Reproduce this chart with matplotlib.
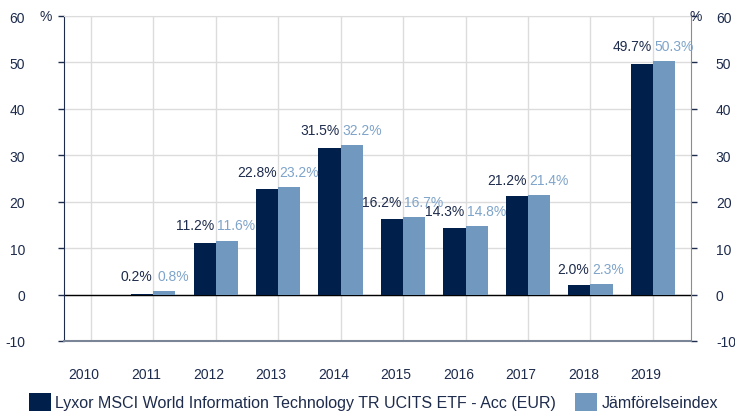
import numpy as np
import matplotlib.pyplot as plt
import matplotlib.transforms as mtransforms

plt.rcParams['font.family'] = ['Liberation Sans', 'DejaVu Sans']
plt.rcParams['axes.unicode_minus'] = False

# data
years = ["2010", "2011", "2012", "2013", "2014", "2015", "2016", "2017", "2018", "2019"]
fund = [np.nan, 0.2, 11.2, 22.8, 31.5, 16.2, 14.3, 21.2, 2.0, 49.7]
index = [np.nan, 0.8, 11.6, 23.2, 32.2, 16.7, 14.8, 21.4, 2.3, 50.3]
fund_name = "Lyxor MSCI World Information Technology TR UCITS ETF - Acc (EUR)"
index_name = "Jämförelseindex"

dark = "#001f4b"
light = "#7199c0"
dark_txt = "#1d2b4c"
light_txt = "#7fa4ca"
grid_col = "#dcdcdc"
fs = 10

fig = plt.figure(figsize=(7.35, 4.14), dpi=100)
ax = fig.add_axes([64 / 735, 1 - 342 / 414, (691 - 64) / 735, (342 - 17) / 414])

x = np.arange(len(years))
w = 0.355
ax.bar(x - w / 2, fund, w, color=dark, zorder=3, label=fund_name)
ax.bar(x + w / 2, index, w, color=light, zorder=3, label=index_name)

# value labels sit above the taller bar of each pair
for i in range(len(years)):
    if np.isnan(fund[i]):
        continue
    top = max(fund[i], index[i])
    ax.annotate(f"{fund[i]:.1f}%", (x[i], top), xytext=(-1, 6), textcoords="offset points",
                ha="right", va="bottom", color=dark_txt, fontsize=fs, zorder=4)
    ax.annotate(f"{index[i]:.1f}%", (x[i], top), xytext=(1 if fund[i] > 1 else 3, 6),
                textcoords="offset points", ha="left", va="bottom", color=light_txt,
                fontsize=fs, zorder=4)

ax.set_xlim(-0.43, 9.61)
ax.set_ylim(-10, 60)
ax.set_yticks(range(-10, 61, 10))
ax.set_xticks(x)
ax.set_xticklabels(years)
ax.tick_params(axis="x", length=0, pad=19, labelsize=fs, labelcolor=dark_txt)
ax.tick_params(axis="y", direction="out", length=4, width=1, labelsize=fs,
               labelcolor=dark_txt, colors=dark_txt, pad=24, left=True, right=True,
               labelleft=True, labelright=True)

# shift year labels slightly to the left, right y labels back in
offset = mtransforms.ScaledTranslation(-7 / 100, 0, fig.dpi_scale_trans)
for lab in ax.get_xticklabels():
    lab.set_transform(lab.get_transform() + offset)
roff = mtransforms.ScaledTranslation(-14 / 100, 0, fig.dpi_scale_trans)
for t in ax.yaxis.get_major_ticks():
    t.label2.set_transform(t.label2.get_transform() + roff)

ax.grid(True, color=grid_col, linewidth=1, zorder=0)
ax.axhline(0, color="black", linewidth=1, zorder=2)

ax.spines["left"].set_color(dark_txt)
ax.spines["right"].set_color("#8c8c8c")
ax.spines["top"].set_color(grid_col)
ax.spines["bottom"].set_color("#7a8598")
ax.spines["bottom"].set_linewidth(1.5)

fig.text(46 / 735, 1 - 17 / 414, "%", ha="center", va="center", fontsize=fs, color=dark_txt)
fig.text(696 / 735, 1 - 17 / 414, "%", ha="center", va="center", fontsize=fs, color=dark_txt)

fig.legend(loc="center left", bbox_to_anchor=(29 / 735, 1 - 403 / 414), ncol=2,
           frameon=False, fontsize=11.5, handlelength=1.35, handleheight=1.35,
           handletextpad=0.3, columnspacing=1.2, borderpad=0, borderaxespad=0,
           labelcolor=dark_txt)

fig.savefig("out.png", dpi=100)
